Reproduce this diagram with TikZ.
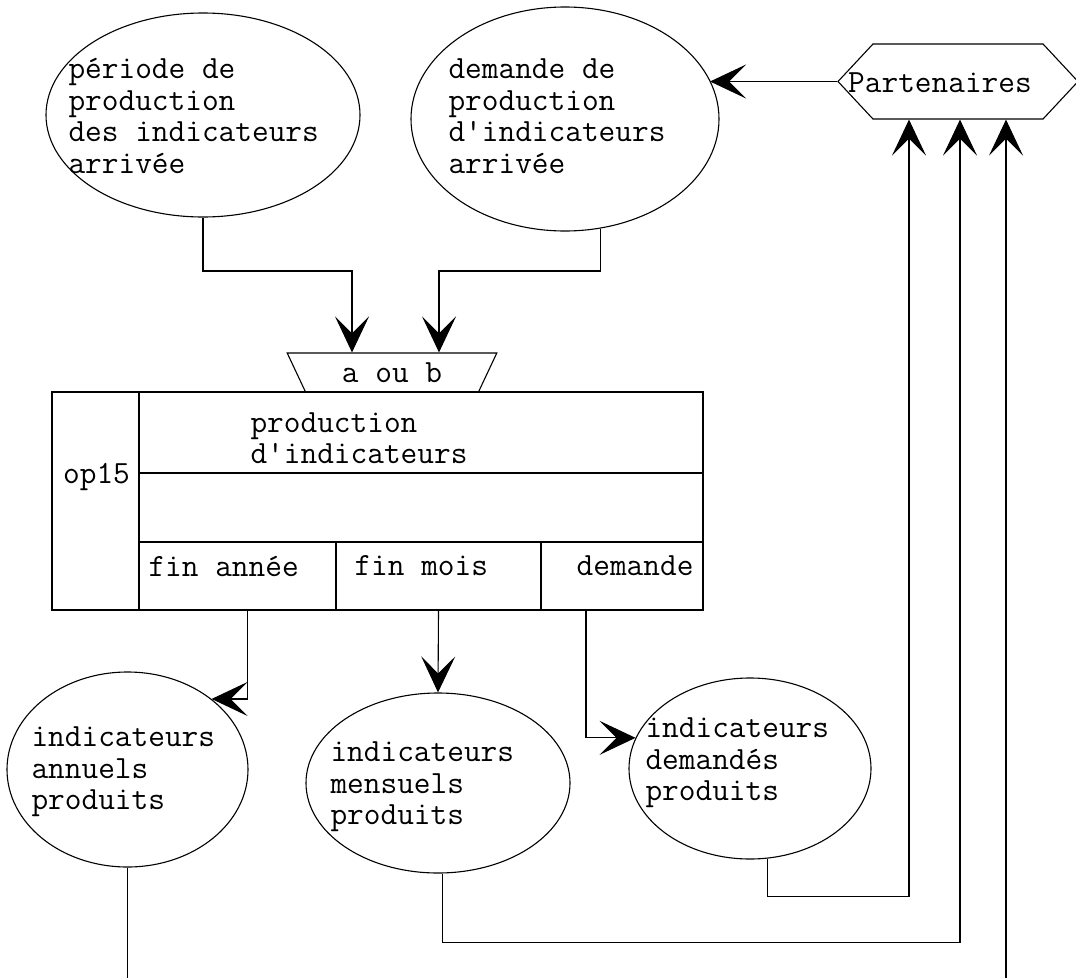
\documentclass[tikz,border=0pt]{standalone}
\usepackage{fontspec}
\usetikzlibrary{shapes.geometric,shapes.symbols,arrows.meta,calc}

\begin{document}
\begin{tikzpicture}
[x=1pt,y=-1pt,line width=1.1pt,
fleche/.style = {-{Stealth[length=36pt,width=34pt,inset=17pt]}},
bulle/.style = {draw, ellipse, inner sep=0pt},
boite/.style = {draw, rectangle, inner sep=0pt},
texte/.style = {font=\ttfamily\fontsize{32.4}{31.5}\selectfont, align=left, inner sep=0pt},
hexa/.style = {draw, signal, signal to=west and east, signal pointer angle=94, minimum width=240pt, minimum height=75pt, inner sep=0pt},
trapeze/.style = {draw, trapezium, trapezium left angle=62, trapezium right angle=62, shape border rotate=180, trapezium stretches=true, minimum width=210pt, minimum height=39pt, inner sep=0pt, font=\ttfamily\fontsize{32.4}{31.5}\selectfont},]
\useasboundingbox (0,0) rectangle (1076,977);
\node (per) at (203,115)[bulle,minimum width=314pt,minimum height=204pt] {};
\node (perT) at (68,116)[texte,anchor=west] {période de\\production\\des indicateurs\\arrivée};
\node (dem) at (565,119)[bulle,minimum width=308pt,minimum height=224pt] {};
\node (demT) at (448,116)[texte,anchor=west] {demande de\\production\\d'indicateurs\\arrivée};
\node (P) at (958,81.5)[hexa] {};
\node (PT) at (940,83)[texte] {Partenaires};
\node (ab) at (392,372.5)[trapeze] {a ou b};
\node (op) at (95.5,501)[boite,minimum width=87pt,minimum height=218pt] {};
\node (opT) at (96.5,477)[texte] {op15};
\node (titre) at (421,432.5)[boite,minimum width=564pt,minimum height=81pt] {};
\node (titreT) at (250,438)[texte,anchor=west] {production\\d'indicateurs};
\node (vide) at (421,507.5)[boite,minimum width=564pt,minimum height=69pt] {};
\node (fa) at (237.5,576)[boite,minimum width=197pt,minimum height=68pt] {};
\node (faT) at (148,566)[texte,anchor=west] {fin année};
\node (fm) at (438.5,576)[boite,minimum width=205pt,minimum height=68pt] {};
\node (fmT) at (354,566)[texte,anchor=west] {fin mois};
\node (dm) at (622,576)[boite,minimum width=162pt,minimum height=68pt] {};
\node (dmT) at (694,566)[texte,anchor=east] {demande};
\node (ann) at (127.5,769.5)[bulle,minimum width=241pt,minimum height=195pt] {};
\node (annT) at (31,772)[texte,anchor=west] {indicateurs\\annuels\\produits};
\node (men) at (438,783)[bulle,minimum width=264pt,minimum height=180pt] {};
\node (menT) at (330,787)[texte,anchor=west] {indicateurs\\mensuels\\produits};
\node (dmd) at (750,768.5)[bulle,minimum width=242pt,minimum height=181pt] {};
\node (dmdT) at (645,763)[texte,anchor=west] {indicateurs\\demandés\\produits};
\coordinate (haut) at (0,271);
\coordinate (bas) at (0,1000);
\draw[fleche] (P.west) -- (P.west -| dem.15);
\draw[fleche] (per.south) -- (per.south |- haut) -| ([xshift=-40pt]ab.north);
\draw[fleche] (dem.-72) -- (dem.-72 |- haut) -| ([xshift=47pt]ab.north);
\draw[fleche] ([xshift=10pt]fa.south) |- (ann.40);
\draw[fleche] (fm.south) -- (men.north);
\draw[fleche] ([xshift=-36pt]dm.south) |- (dmd.165);
\draw[fleche] (dmd.-79) -- ++(0,38) -| ([xshift=-49pt]P.south);
\draw[fleche] (men.-87) -- ++(0,69) -| ([xshift=2pt]P.south);
\draw[fleche] (ann.south) |- (bas) -| ([xshift=48pt]P.south);
\end{tikzpicture}
\end{document}
